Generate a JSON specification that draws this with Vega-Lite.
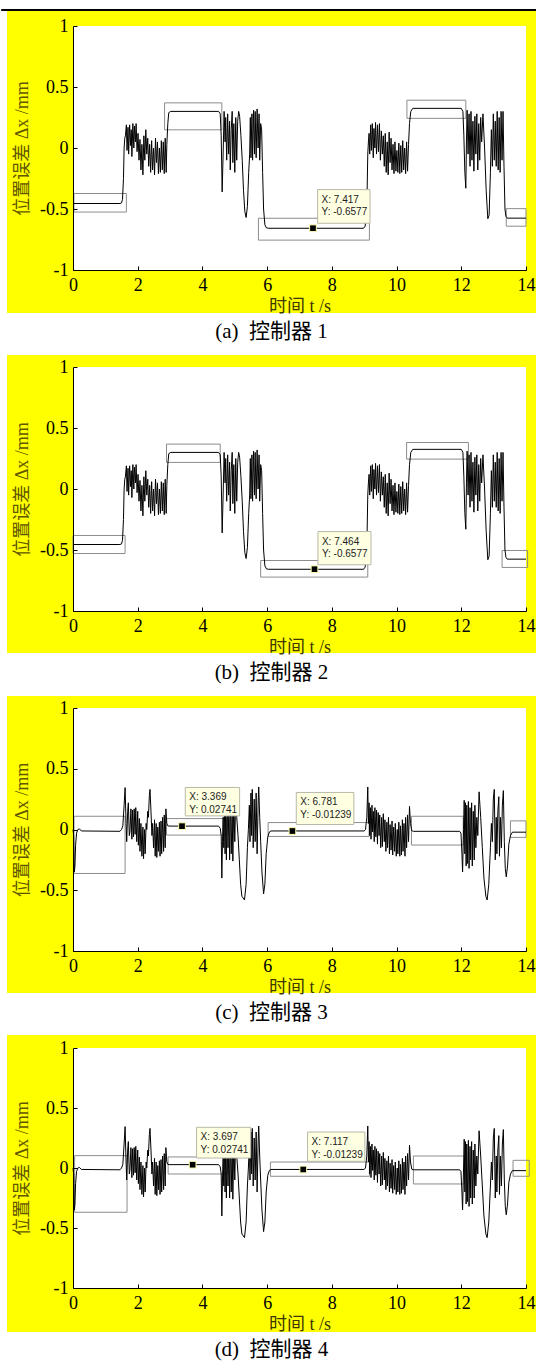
{
  "$schema": "https://vega.github.io/schema/vega-lite/v6.json",
  "background": "white",
  "padding": {"left": 0, "top": 9, "right": 0, "bottom": 4},
  "config": {
    "view": {"stroke": null},
    "axis": {"domainColor": "#000", "tickColor": "#000", "tickSize": -4, "labelFont": "Liberation Serif", "labelFontSize": 18, "labelColor": "#000", "titleFont": "Liberation Serif, Noto Sans CJK SC", "titleFontSize": 18, "titleFontWeight": "normal", "grid": false, "labelPadding": 10, "labelFlush": false, "labelOverlap": false},
    "axisY": {"titleColor": "#605500", "labelPadding": 9, "titlePadding": 8},
    "axisX": {"titleColor": "#3c3800", "titlePadding": 3},
    "title": {"font": "Liberation Serif, Noto Sans CJK SC", "fontSize": 21, "fontWeight": "normal", "color": "#000", "orient": "bottom", "anchor": "middle", "offset": 6, "dx": -28}
  },
  "datasets": {
    "sigA": [
      {"t":0,"y":-0.455},{"t":1.45,"y":-0.455},{"t":1.5,"y":-0.45},{"t":1.53,"y":-0.42},{"t":1.56,"y":-0.25},{"t":1.58,"y":0.0},{"t":1.6,"y":0.08},
      {"t":1.62,"y":0.10},{"t":1.65,"y":0.19},{"t":1.67,"y":-0.02},{"t":1.7,"y":0.17},{"t":1.72,"y":-0.05},{"t":1.75,"y":0.19},{"t":1.78,"y":0.02},{"t":1.8,"y":0.15},{"t":1.82,"y":-0.07},{"t":1.85,"y":0.2},{"t":1.88,"y":0.0},{"t":1.9,"y":0.18},{"t":1.93,"y":0.05},{"t":1.95,"y":0.2},{"t":1.98,"y":-0.03},{"t":2.01,"y":0.12},{"t":2.04,"y":-0.1},{"t":2.07,"y":0.07},{"t":2.1,"y":-0.18},{"t":2.13,"y":0.03},{"t":2.16,"y":-0.22},{"t":2.19,"y":0.1},{"t":2.22,"y":-0.1},{"t":2.25,"y":0.15},{"t":2.28,"y":-0.05},{"t":2.31,"y":0.08},{"t":2.34,"y":-0.15},{"t":2.37,"y":0.03},{"t":2.4,"y":-0.2},{"t":2.43,"y":0.06},{"t":2.46,"y":-0.18},{"t":2.49,"y":0.0},{"t":2.52,"y":-0.22},{"t":2.55,"y":0.08},{"t":2.58,"y":-0.12},{"t":2.61,"y":0.05},{"t":2.64,"y":-0.21},{"t":2.67,"y":0.0},{"t":2.7,"y":-0.2},{"t":2.73,"y":0.06},{"t":2.76,"y":-0.18},{"t":2.79,"y":0.05},{"t":2.82,"y":-0.21},{"t":2.85,"y":0.08},{"t":2.88,"y":-0.2},{"t":2.9,"y":0.03},{"t":2.93,"y":0.2},{"t":2.96,"y":0.29},{"t":3.02,"y":0.3},
      {"t":4.5,"y":0.3},{"t":4.55,"y":0.28},{"t":4.58,"y":0.1},{"t":4.61,"y":-0.36},{"t":4.64,"y":-0.05},{"t":4.67,"y":0.3},{"t":4.7,"y":0.05},{"t":4.72,"y":0.25},{"t":4.75,"y":-0.1},{"t":4.78,"y":0.28},{"t":4.81,"y":-0.05},{"t":4.84,"y":0.22},{"t":4.86,"y":-0.18},{"t":4.89,"y":0.15},{"t":4.92,"y":0.3},{"t":4.94,"y":-0.12},{"t":4.97,"y":0.2},{"t":5.0,"y":-0.2},{"t":5.03,"y":0.25},{"t":5.06,"y":-0.1},{"t":5.09,"y":0.22},{"t":5.12,"y":0.3},{"t":5.15,"y":0.26},{"t":5.19,"y":0.1},{"t":5.23,"y":-0.1},{"t":5.27,"y":-0.35},{"t":5.31,"y":-0.52},{"t":5.35,"y":-0.57},{"t":5.39,"y":-0.48},{"t":5.43,"y":-0.2},{"t":5.46,"y":-0.05},{"t":5.48,"y":0.25},{"t":5.5,"y":-0.08},{"t":5.53,"y":0.28},{"t":5.55,"y":-0.1},{"t":5.58,"y":0.31},{"t":5.61,"y":-0.05},{"t":5.63,"y":0.3},{"t":5.66,"y":-0.08},{"t":5.69,"y":0.32},{"t":5.72,"y":0.0},{"t":5.75,"y":0.28},{"t":5.77,"y":-0.1},{"t":5.8,"y":0.2},{"t":5.83,"y":0.15},{"t":5.86,"y":-0.2},{"t":5.89,"y":-0.5},{"t":5.93,"y":-0.63},{"t":5.98,"y":-0.655},{"t":6.05,"y":-0.658},
      {"t":8.98,"y":-0.658},{"t":9.03,"y":-0.64},{"t":9.06,"y":-0.55},{"t":9.09,"y":-0.35},{"t":9.11,"y":-0.05},{"t":9.13,"y":0.05},{"t":9.15,"y":0.12},{"t":9.17,"y":-0.05},{"t":9.2,"y":0.19},{"t":9.22,"y":-0.02},{"t":9.25,"y":0.2},{"t":9.28,"y":-0.08},{"t":9.3,"y":0.16},{"t":9.33,"y":0.0},{"t":9.35,"y":0.21},{"t":9.38,"y":-0.05},{"t":9.41,"y":0.19},{"t":9.44,"y":-0.03},{"t":9.47,"y":0.2},{"t":9.5,"y":-0.1},{"t":9.53,"y":0.14},{"t":9.56,"y":-0.05},{"t":9.59,"y":0.1},{"t":9.62,"y":-0.15},{"t":9.65,"y":0.12},{"t":9.68,"y":-0.2},{"t":9.71,"y":0.05},{"t":9.74,"y":-0.22},{"t":9.77,"y":0.13},{"t":9.8,"y":-0.12},{"t":9.83,"y":0.08},{"t":9.86,"y":-0.18},{"t":9.89,"y":0.03},{"t":9.92,"y":-0.21},{"t":9.95,"y":0.05},{"t":9.98,"y":-0.19},{"t":10.01,"y":-0.02},{"t":10.04,"y":-0.2},{"t":10.07,"y":0.04},{"t":10.1,"y":-0.21},{"t":10.13,"y":0.02},{"t":10.16,"y":-0.2},{"t":10.19,"y":0.06},{"t":10.22,"y":-0.18},{"t":10.25,"y":0.0},{"t":10.28,"y":-0.21},{"t":10.31,"y":0.05},{"t":10.34,"y":-0.19},{"t":10.37,"y":0.03},{"t":10.4,"y":0.2},{"t":10.44,"y":0.3},{"t":10.5,"y":0.325},
      {"t":12.0,"y":0.325},{"t":12.05,"y":0.3},{"t":12.08,"y":0.1},{"t":12.11,"y":-0.2},{"t":12.14,"y":-0.33},{"t":12.16,"y":0.05},{"t":12.18,"y":0.31},{"t":12.21,"y":-0.05},{"t":12.24,"y":0.28},{"t":12.27,"y":-0.15},{"t":12.3,"y":0.3},{"t":12.33,"y":-0.1},{"t":12.36,"y":0.22},{"t":12.39,"y":-0.19},{"t":12.42,"y":0.26},{"t":12.45,"y":-0.05},{"t":12.48,"y":0.28},{"t":12.51,"y":-0.18},{"t":12.54,"y":0.2},{"t":12.57,"y":-0.1},{"t":12.6,"y":0.25},{"t":12.63,"y":0.05},{"t":12.67,"y":0.28},{"t":12.72,"y":0.0},{"t":12.77,"y":-0.35},{"t":12.82,"y":-0.58},{"t":12.86,"y":-0.55},{"t":12.9,"y":-0.2},{"t":12.93,"y":0.15},{"t":12.96,"y":-0.15},{"t":12.99,"y":0.28},{"t":13.02,"y":-0.1},{"t":13.05,"y":0.22},{"t":13.08,"y":-0.15},{"t":13.11,"y":0.3},{"t":13.14,"y":-0.18},{"t":13.17,"y":0.25},{"t":13.2,"y":-0.2},{"t":13.23,"y":0.3},{"t":13.26,"y":-0.1},{"t":13.29,"y":0.3},{"t":13.32,"y":-0.15},{"t":13.35,"y":-0.5},{"t":13.38,"y":-0.56},{"t":13.42,"y":-0.575},{"t":14.0,"y":-0.575}
    ],
    "sigC": [
      {"t":0,"y":0.0},{"t":0.02,"y":-0.05},{"t":0.04,"y":-0.35},{"t":0.06,"y":-0.3},{"t":0.08,"y":-0.13},{"t":0.11,"y":-0.03},{"t":0.15,"y":0.0},{"t":0.2,"y":0.005},{"t":0.26,"y":-0.012},{"t":1.45,"y":-0.015},{"t":1.5,"y":0.0},{"t":1.54,"y":0.03},{"t":1.58,"y":0.2},
      {"t":1.61,"y":0.345},{"t":1.64,"y":0.05},{"t":1.66,"y":-0.1},{"t":1.69,"y":0.15},{"t":1.71,"y":0.22},{"t":1.74,"y":-0.05},{"t":1.76,"y":-0.02},{"t":1.79,"y":0.17},{"t":1.82,"y":-0.08},{"t":1.84,"y":0.16},{"t":1.87,"y":-0.06},{"t":1.89,"y":0.17},{"t":1.92,"y":-0.04},{"t":1.94,"y":0.18},{"t":1.97,"y":-0.1},{"t":2.0,"y":0.15},{"t":2.02,"y":-0.13},{"t":2.05,"y":0.09},{"t":2.07,"y":-0.18},{"t":2.1,"y":0.05},{"t":2.13,"y":-0.22},{"t":2.16,"y":0.02},{"t":2.18,"y":-0.24},{"t":2.21,"y":0.0},{"t":2.23,"y":-0.2},{"t":2.26,"y":0.05},{"t":2.28,"y":0.0},{"t":2.31,"y":0.15},{"t":2.33,"y":0.1},{"t":2.36,"y":0.28},{"t":2.38,"y":0.33},{"t":2.41,"y":0.15},{"t":2.44,"y":-0.05},{"t":2.46,"y":0.05},{"t":2.49,"y":-0.15},{"t":2.52,"y":0.08},{"t":2.54,"y":-0.22},{"t":2.57,"y":0.05},{"t":2.59,"y":-0.23},{"t":2.62,"y":0.02},{"t":2.64,"y":-0.18},{"t":2.67,"y":0.06},{"t":2.69,"y":-0.22},{"t":2.72,"y":0.07},{"t":2.74,"y":-0.2},{"t":2.77,"y":0.1},{"t":2.8,"y":-0.18},{"t":2.82,"y":0.12},{"t":2.85,"y":-0.15},{"t":2.87,"y":0.17},{"t":2.9,"y":0.05},{"t":2.93,"y":0.03},{"t":2.97,"y":0.028},
      {"t":4.5,"y":0.028},{"t":4.55,"y":0.01},{"t":4.58,"y":-0.05},{"t":4.6,"y":-0.4},{"t":4.62,"y":-0.1},{"t":4.64,"y":0.1},{"t":4.66,"y":-0.15},{"t":4.68,"y":0.2},{"t":4.7,"y":-0.2},{"t":4.72,"y":0.25},{"t":4.74,"y":-0.25},{"t":4.77,"y":0.3},{"t":4.79,"y":-0.15},{"t":4.82,"y":0.2},{"t":4.84,"y":-0.25},{"t":4.87,"y":0.28},{"t":4.89,"y":-0.2},{"t":4.92,"y":0.15},{"t":4.94,"y":-0.26},{"t":4.97,"y":0.25},{"t":5.0,"y":-0.1},{"t":5.03,"y":0.28},{"t":5.06,"y":0.1},{"t":5.1,"y":-0.05},{"t":5.14,"y":-0.25},{"t":5.18,"y":-0.45},{"t":5.22,"y":-0.55},{"t":5.3,"y":-0.58},{"t":5.35,"y":-0.45},{"t":5.39,"y":-0.15},{"t":5.42,"y":0.0},{"t":5.45,"y":0.2},{"t":5.47,"y":-0.1},{"t":5.5,"y":0.3},{"t":5.52,"y":-0.05},{"t":5.54,"y":0.33},{"t":5.57,"y":-0.15},{"t":5.6,"y":0.25},{"t":5.63,"y":-0.1},{"t":5.66,"y":0.3},{"t":5.69,"y":-0.2},{"t":5.72,"y":0.2},{"t":5.74,"y":0.35},{"t":5.77,"y":0.1},{"t":5.8,"y":-0.1},{"t":5.84,"y":-0.35},{"t":5.89,"y":-0.53},{"t":5.93,"y":-0.45},{"t":5.97,"y":-0.2},{"t":6.02,"y":-0.06},{"t":6.07,"y":-0.02},{"t":6.12,"y":-0.012},
      {"t":9.0,"y":-0.012},{"t":9.04,"y":0.0},{"t":9.08,"y":0.1},{"t":9.11,"y":0.35},{"t":9.13,"y":0.05},{"t":9.15,"y":0.22},{"t":9.17,"y":-0.05},{"t":9.19,"y":0.18},{"t":9.21,"y":-0.08},{"t":9.24,"y":0.2},{"t":9.26,"y":-0.02},{"t":9.28,"y":0.15},{"t":9.31,"y":-0.1},{"t":9.33,"y":0.18},{"t":9.36,"y":-0.06},{"t":9.38,"y":0.16},{"t":9.41,"y":-0.12},{"t":9.43,"y":0.14},{"t":9.46,"y":-0.05},{"t":9.48,"y":0.12},{"t":9.51,"y":-0.15},{"t":9.54,"y":0.1},{"t":9.56,"y":-0.14},{"t":9.59,"y":0.13},{"t":9.62,"y":-0.1},{"t":9.64,"y":0.08},{"t":9.67,"y":-0.18},{"t":9.7,"y":0.06},{"t":9.72,"y":-0.15},{"t":9.75,"y":0.1},{"t":9.78,"y":-0.2},{"t":9.8,"y":0.04},{"t":9.83,"y":-0.17},{"t":9.86,"y":0.07},{"t":9.88,"y":-0.21},{"t":9.91,"y":0.02},{"t":9.94,"y":-0.18},{"t":9.96,"y":0.05},{"t":9.99,"y":-0.22},{"t":10.02,"y":0.0},{"t":10.04,"y":-0.2},{"t":10.07,"y":0.06},{"t":10.1,"y":-0.22},{"t":10.12,"y":0.03},{"t":10.15,"y":-0.21},{"t":10.18,"y":0.08},{"t":10.2,"y":-0.18},{"t":10.23,"y":0.05},{"t":10.26,"y":-0.22},{"t":10.28,"y":0.1},{"t":10.31,"y":-0.15},{"t":10.34,"y":0.12},{"t":10.37,"y":-0.1},{"t":10.4,"y":0.19},{"t":10.43,"y":0.05},{"t":10.47,"y":-0.01},{"t":10.52,"y":-0.015},
      {"t":11.95,"y":-0.015},{"t":11.99,"y":-0.03},{"t":12.02,"y":-0.2},{"t":12.04,"y":-0.35},{"t":12.07,"y":0.0},{"t":12.09,"y":0.24},{"t":12.11,"y":-0.2},{"t":12.13,"y":0.22},{"t":12.15,"y":-0.3},{"t":12.17,"y":0.2},{"t":12.19,"y":-0.28},{"t":12.22,"y":0.23},{"t":12.24,"y":-0.32},{"t":12.27,"y":0.18},{"t":12.29,"y":-0.25},{"t":12.32,"y":0.22},{"t":12.34,"y":-0.3},{"t":12.37,"y":0.15},{"t":12.4,"y":-0.25},{"t":12.42,"y":0.2},{"t":12.45,"y":-0.15},{"t":12.48,"y":0.1},{"t":12.51,"y":-0.05},{"t":12.55,"y":0.31},{"t":12.6,"y":0.1},{"t":12.65,"y":-0.15},{"t":12.7,"y":-0.4},{"t":12.76,"y":-0.55},{"t":12.8,"y":-0.58},{"t":12.85,"y":-0.45},{"t":12.9,"y":-0.15},{"t":12.93,"y":0.05},{"t":12.96,"y":-0.1},{"t":12.99,"y":0.25},{"t":13.02,"y":0.33},{"t":13.05,"y":-0.25},{"t":13.08,"y":0.1},{"t":13.1,"y":-0.2},{"t":13.13,"y":0.15},{"t":13.16,"y":0.27},{"t":13.18,"y":-0.22},{"t":13.21,"y":0.1},{"t":13.24,"y":-0.15},{"t":13.27,"y":0.2},{"t":13.3,"y":0.32},{"t":13.33,"y":-0.1},{"t":13.36,"y":-0.32},{"t":13.39,"y":-0.39},{"t":13.43,"y":-0.3},{"t":13.47,"y":-0.12},{"t":13.52,"y":-0.05},{"t":13.58,"y":-0.022},{"t":14.0,"y":-0.022}
    ],
    "boxes": [
      {"p":1,"t":0.03,"t2":1.65,"y":-0.525,"y2":-0.373},{"p":1,"t":2.83,"t2":4.6,"y":0.149,"y2":0.37},{"p":1,"t":5.73,"t2":9.16,"y":-0.755,"y2":-0.576},{"p":1,"t":10.32,"t2":12.14,"y":0.243,"y2":0.392},{"p":1,"t":13.39,"t2":14.0,"y":-0.641,"y2":-0.497},
      {"p":2,"t":0.0,"t2":1.61,"y":-0.529,"y2":-0.381},{"p":2,"t":2.89,"t2":4.55,"y":0.218,"y2":0.368},{"p":2,"t":5.8,"t2":9.11,"y":-0.722,"y2":-0.586},{"p":2,"t":10.31,"t2":12.22,"y":0.245,"y2":0.381},{"p":2,"t":13.26,"t2":14.05,"y":-0.643,"y2":-0.504},
      {"p":3,"t":0.03,"t2":1.61,"y":-0.362,"y2":0.109},{"p":3,"t":2.89,"t2":4.75,"y":-0.046,"y2":0.09},{"p":3,"t":6.03,"t2":9.15,"y":-0.057,"y2":0.057},{"p":3,"t":10.46,"t2":12.06,"y":-0.128,"y2":0.109},{"p":3,"t":13.52,"t2":14.0,"y":-0.065,"y2":0.071},
      {"p":4,"t":0.05,"t2":1.67,"y":-0.369,"y2":0.103},{"p":4,"t":2.94,"t2":4.77,"y":-0.05,"y2":0.092},{"p":4,"t":6.1,"t2":9.16,"y":-0.069,"y2":0.05},{"p":4,"t":10.52,"t2":12.1,"y":-0.133,"y2":0.1},{"p":4,"t":13.6,"t2":14.1,"y":-0.069,"y2":0.064}
    ],
    "tips": [
      {"p":1,"t":7.417,"y":-0.6577,"bt":7.56,"bt2":9.18,"by":-0.617,"by2":-0.341,"label":"X: 7.417\nY: -0.6577"},
      {"p":2,"t":7.464,"y":-0.6577,"bt":7.57,"bt2":9.21,"by":-0.621,"by2":-0.349,"label":"X: 7.464\nY: -0.6577"},
      {"p":3,"t":3.369,"y":0.02741,"bt":3.47,"bt2":5.15,"by":0.112,"by2":0.346,"label":"X: 3.369\nY: 0.02741"},
      {"p":3,"t":6.781,"y":-0.01239,"bt":6.9,"bt2":8.68,"by":0.041,"by2":0.305,"label":"X: 6.781\nY: -0.01239"},
      {"p":4,"t":3.697,"y":0.02741,"bt":3.82,"bt2":5.49,"by":0.083,"by2":0.339,"label":"X: 3.697\nY: 0.02741"},
      {"p":4,"t":7.117,"y":-0.01239,"bt":7.25,"bt2":9.02,"by":0.056,"by2":0.3,"label":"X: 7.117\nY: -0.01239"}
    ]
  },
  "vconcat": [
    {
      "width": 453, "height": 244,
      "title": {"text": "(a)\u2002控制器 1"},
      "layer": [
        {"data": {"values": [{}]}, "mark": {"type": "rect", "fill": "#ffff00"}, "encoding": {"x": {"datum": -2.04}, "x2": {"datum": 14.35}, "y": {"datum": 1.123}, "y2": {"datum": -1.352}}},
        {"data": {"values": [{}]}, "mark": {"type": "rule", "color": "#000", "strokeWidth": 2}, "encoding": {"x": {"datum": -2.22}, "x2": {"datum": 14.35}, "y": {"datum": 1.131}}},
        {"data": {"values": [{}]}, "mark": {"type": "rect", "fill": "#ffffff"}, "encoding": {"x": {"datum": 0}, "x2": {"datum": 14}, "y": {"datum": -1}, "y2": {"datum": 1}}},
        {"data": {"name": "boxes"}, "transform": [{"filter": "datum.p == 1"}], "mark": {"type": "rect", "fill": "transparent", "stroke": "#8c8c8c", "strokeWidth": 1}, "encoding": {"x": {"field": "t", "type": "quantitative"}, "x2": {"field": "t2"}, "y": {"field": "y", "type": "quantitative"}, "y2": {"field": "y2"}}},
        {"data": {"name": "sigA"}, "mark": {"type": "line", "color": "#000", "strokeWidth": 1}, "encoding": {"x": {"field": "t", "type": "quantitative", "scale": {"domain": [0, 14], "nice": false, "zero": false}, "axis": {"values": [0, 2, 4, 6, 8, 10, 12, 14], "title": "时间 t /s", "zindex": 1}}, "y": {"field": "y", "type": "quantitative", "scale": {"domain": [-1, 1], "nice": false, "zero": false}, "axis": {"values": [-1, -0.5, 0, 0.5, 1], "title": "位置误差 Δx /mm", "labelExpr": "'' + datum.value", "zindex": 1}}}},
        {"data": {"name": "tips"}, "transform": [{"filter": "datum.p == 1"}], "mark": {"type": "rect", "fill": "#ffffe1", "stroke": "#b8b8a8", "strokeWidth": 1}, "encoding": {"x": {"field": "bt", "type": "quantitative"}, "x2": {"field": "bt2"}, "y": {"field": "by", "type": "quantitative"}, "y2": {"field": "by2"}}},
        {"data": {"name": "tips"}, "transform": [{"filter": "datum.p == 1"}], "mark": {"type": "square", "size": 45, "fill": "#000", "stroke": "#ffffb0", "strokeWidth": 1, "opacity": 1, "filled": true}, "encoding": {"x": {"field": "t", "type": "quantitative"}, "y": {"field": "y", "type": "quantitative"}}},
        {"data": {"name": "tips"}, "transform": [{"filter": "datum.p == 1"}], "mark": {"type": "text", "align": "left", "baseline": "top", "dx": 4, "dy": 5, "font": "Liberation Sans", "fontSize": 10, "lineBreak": "\n", "lineHeight": 12.5, "color": "#222"}, "encoding": {"x": {"field": "bt", "type": "quantitative"}, "y": {"field": "by2", "type": "quantitative"}, "text": {"field": "label"}}}
      ]
    },
    {
      "width": 453, "height": 244,
      "title": {"text": "(b)\u2002控制器 2"},
      "layer": [
        {"data": {"values": [{}]}, "mark": {"type": "rect", "fill": "#ffff00"}, "encoding": {"x": {"datum": -2.04}, "x2": {"datum": 14.35}, "y": {"datum": 1.098}, "y2": {"datum": -1.344}}},
        {"data": {"values": [{}]}, "mark": {"type": "rect", "fill": "#ffffff"}, "encoding": {"x": {"datum": 0}, "x2": {"datum": 14}, "y": {"datum": -1}, "y2": {"datum": 1}}},
        {"data": {"name": "boxes"}, "transform": [{"filter": "datum.p == 2"}], "mark": {"type": "rect", "fill": "transparent", "stroke": "#8c8c8c", "strokeWidth": 1}, "encoding": {"x": {"field": "t", "type": "quantitative"}, "x2": {"field": "t2"}, "y": {"field": "y", "type": "quantitative"}, "y2": {"field": "y2"}}},
        {"data": {"name": "sigA"}, "mark": {"type": "line", "color": "#000", "strokeWidth": 1}, "encoding": {"x": {"field": "t", "type": "quantitative", "scale": {"domain": [0, 14], "nice": false, "zero": false}, "axis": {"values": [0, 2, 4, 6, 8, 10, 12, 14], "title": "时间 t /s", "zindex": 1}}, "y": {"field": "y", "type": "quantitative", "scale": {"domain": [-1, 1], "nice": false, "zero": false}, "axis": {"values": [-1, -0.5, 0, 0.5, 1], "title": "位置误差 Δx /mm", "labelExpr": "'' + datum.value", "zindex": 1}}}},
        {"data": {"name": "tips"}, "transform": [{"filter": "datum.p == 2"}], "mark": {"type": "rect", "fill": "#ffffe1", "stroke": "#b8b8a8", "strokeWidth": 1}, "encoding": {"x": {"field": "bt", "type": "quantitative"}, "x2": {"field": "bt2"}, "y": {"field": "by", "type": "quantitative"}, "y2": {"field": "by2"}}},
        {"data": {"name": "tips"}, "transform": [{"filter": "datum.p == 2"}], "mark": {"type": "square", "size": 45, "fill": "#000", "stroke": "#ffffb0", "strokeWidth": 1, "opacity": 1, "filled": true}, "encoding": {"x": {"field": "t", "type": "quantitative"}, "y": {"field": "y", "type": "quantitative"}}},
        {"data": {"name": "tips"}, "transform": [{"filter": "datum.p == 2"}], "mark": {"type": "text", "align": "left", "baseline": "top", "dx": 4, "dy": 5, "font": "Liberation Sans", "fontSize": 10, "lineBreak": "\n", "lineHeight": 12.5, "color": "#222"}, "encoding": {"x": {"field": "bt", "type": "quantitative"}, "y": {"field": "by2", "type": "quantitative"}, "text": {"field": "label"}}}
      ]
    },
    {
      "width": 453, "height": 243,
      "title": {"text": "(c)\u2002控制器 3"},
      "layer": [
        {"data": {"values": [{}]}, "mark": {"type": "rect", "fill": "#ffff00"}, "encoding": {"x": {"datum": -2.04}, "x2": {"datum": 14.35}, "y": {"datum": 1.099}, "y2": {"datum": -1.346}}},
        {"data": {"values": [{}]}, "mark": {"type": "rect", "fill": "#ffffff"}, "encoding": {"x": {"datum": 0}, "x2": {"datum": 14}, "y": {"datum": -1}, "y2": {"datum": 1}}},
        {"data": {"name": "boxes"}, "transform": [{"filter": "datum.p == 3"}], "mark": {"type": "rect", "fill": "transparent", "stroke": "#8c8c8c", "strokeWidth": 1}, "encoding": {"x": {"field": "t", "type": "quantitative"}, "x2": {"field": "t2"}, "y": {"field": "y", "type": "quantitative"}, "y2": {"field": "y2"}}},
        {"data": {"name": "sigC"}, "mark": {"type": "line", "color": "#000", "strokeWidth": 1}, "encoding": {"x": {"field": "t", "type": "quantitative", "scale": {"domain": [0, 14], "nice": false, "zero": false}, "axis": {"values": [0, 2, 4, 6, 8, 10, 12, 14], "title": "时间 t /s", "zindex": 1}}, "y": {"field": "y", "type": "quantitative", "scale": {"domain": [-1, 1], "nice": false, "zero": false}, "axis": {"values": [-1, -0.5, 0, 0.5, 1], "title": "位置误差 Δx /mm", "labelExpr": "'' + datum.value", "zindex": 1}}}},
        {"data": {"name": "tips"}, "transform": [{"filter": "datum.p == 3"}], "mark": {"type": "rect", "fill": "#ffffe1", "stroke": "#b8b8a8", "strokeWidth": 1}, "encoding": {"x": {"field": "bt", "type": "quantitative"}, "x2": {"field": "bt2"}, "y": {"field": "by", "type": "quantitative"}, "y2": {"field": "by2"}}},
        {"data": {"name": "tips"}, "transform": [{"filter": "datum.p == 3"}], "mark": {"type": "square", "size": 45, "fill": "#000", "stroke": "#ffffb0", "strokeWidth": 1, "opacity": 1, "filled": true}, "encoding": {"x": {"field": "t", "type": "quantitative"}, "y": {"field": "y", "type": "quantitative"}}},
        {"data": {"name": "tips"}, "transform": [{"filter": "datum.p == 3"}], "mark": {"type": "text", "align": "left", "baseline": "top", "dx": 4, "dy": 5, "font": "Liberation Sans", "fontSize": 10, "lineBreak": "\n", "lineHeight": 12.5, "color": "#222"}, "encoding": {"x": {"field": "bt", "type": "quantitative"}, "y": {"field": "by2", "type": "quantitative"}, "text": {"field": "label"}}}
      ]
    },
    {
      "width": 453, "height": 240,
      "title": {"text": "(d)\u2002控制器 4"},
      "layer": [
        {"data": {"values": [{}]}, "mark": {"type": "rect", "fill": "#ffff00"}, "encoding": {"x": {"datum": -2.04}, "x2": {"datum": 14.35}, "y": {"datum": 1.108}, "y2": {"datum": -1.367}}},
        {"data": {"values": [{}]}, "mark": {"type": "rect", "fill": "#ffffff"}, "encoding": {"x": {"datum": 0}, "x2": {"datum": 14}, "y": {"datum": -1}, "y2": {"datum": 1}}},
        {"data": {"name": "boxes"}, "transform": [{"filter": "datum.p == 4"}], "mark": {"type": "rect", "fill": "transparent", "stroke": "#8c8c8c", "strokeWidth": 1}, "encoding": {"x": {"field": "t", "type": "quantitative"}, "x2": {"field": "t2"}, "y": {"field": "y", "type": "quantitative"}, "y2": {"field": "y2"}}},
        {"data": {"name": "sigC"}, "mark": {"type": "line", "color": "#000", "strokeWidth": 1}, "encoding": {"x": {"field": "t", "type": "quantitative", "scale": {"domain": [0, 14], "nice": false, "zero": false}, "axis": {"values": [0, 2, 4, 6, 8, 10, 12, 14], "title": "时间 t /s", "zindex": 1}}, "y": {"field": "y", "type": "quantitative", "scale": {"domain": [-1, 1], "nice": false, "zero": false}, "axis": {"values": [-1, -0.5, 0, 0.5, 1], "title": "位置误差 Δx /mm", "labelExpr": "'' + datum.value", "zindex": 1}}}},
        {"data": {"name": "tips"}, "transform": [{"filter": "datum.p == 4"}], "mark": {"type": "rect", "fill": "#ffffe1", "stroke": "#b8b8a8", "strokeWidth": 1}, "encoding": {"x": {"field": "bt", "type": "quantitative"}, "x2": {"field": "bt2"}, "y": {"field": "by", "type": "quantitative"}, "y2": {"field": "by2"}}},
        {"data": {"name": "tips"}, "transform": [{"filter": "datum.p == 4"}], "mark": {"type": "square", "size": 45, "fill": "#000", "stroke": "#ffffb0", "strokeWidth": 1, "opacity": 1, "filled": true}, "encoding": {"x": {"field": "t", "type": "quantitative"}, "y": {"field": "y", "type": "quantitative"}}},
        {"data": {"name": "tips"}, "transform": [{"filter": "datum.p == 4"}], "mark": {"type": "text", "align": "left", "baseline": "top", "dx": 4, "dy": 5, "font": "Liberation Sans", "fontSize": 10, "lineBreak": "\n", "lineHeight": 12.5, "color": "#222"}, "encoding": {"x": {"field": "bt", "type": "quantitative"}, "y": {"field": "by2", "type": "quantitative"}, "text": {"field": "label"}}}
      ]
    }
  ],
  "spacing": 97,
  "bounds": "flush"
}
